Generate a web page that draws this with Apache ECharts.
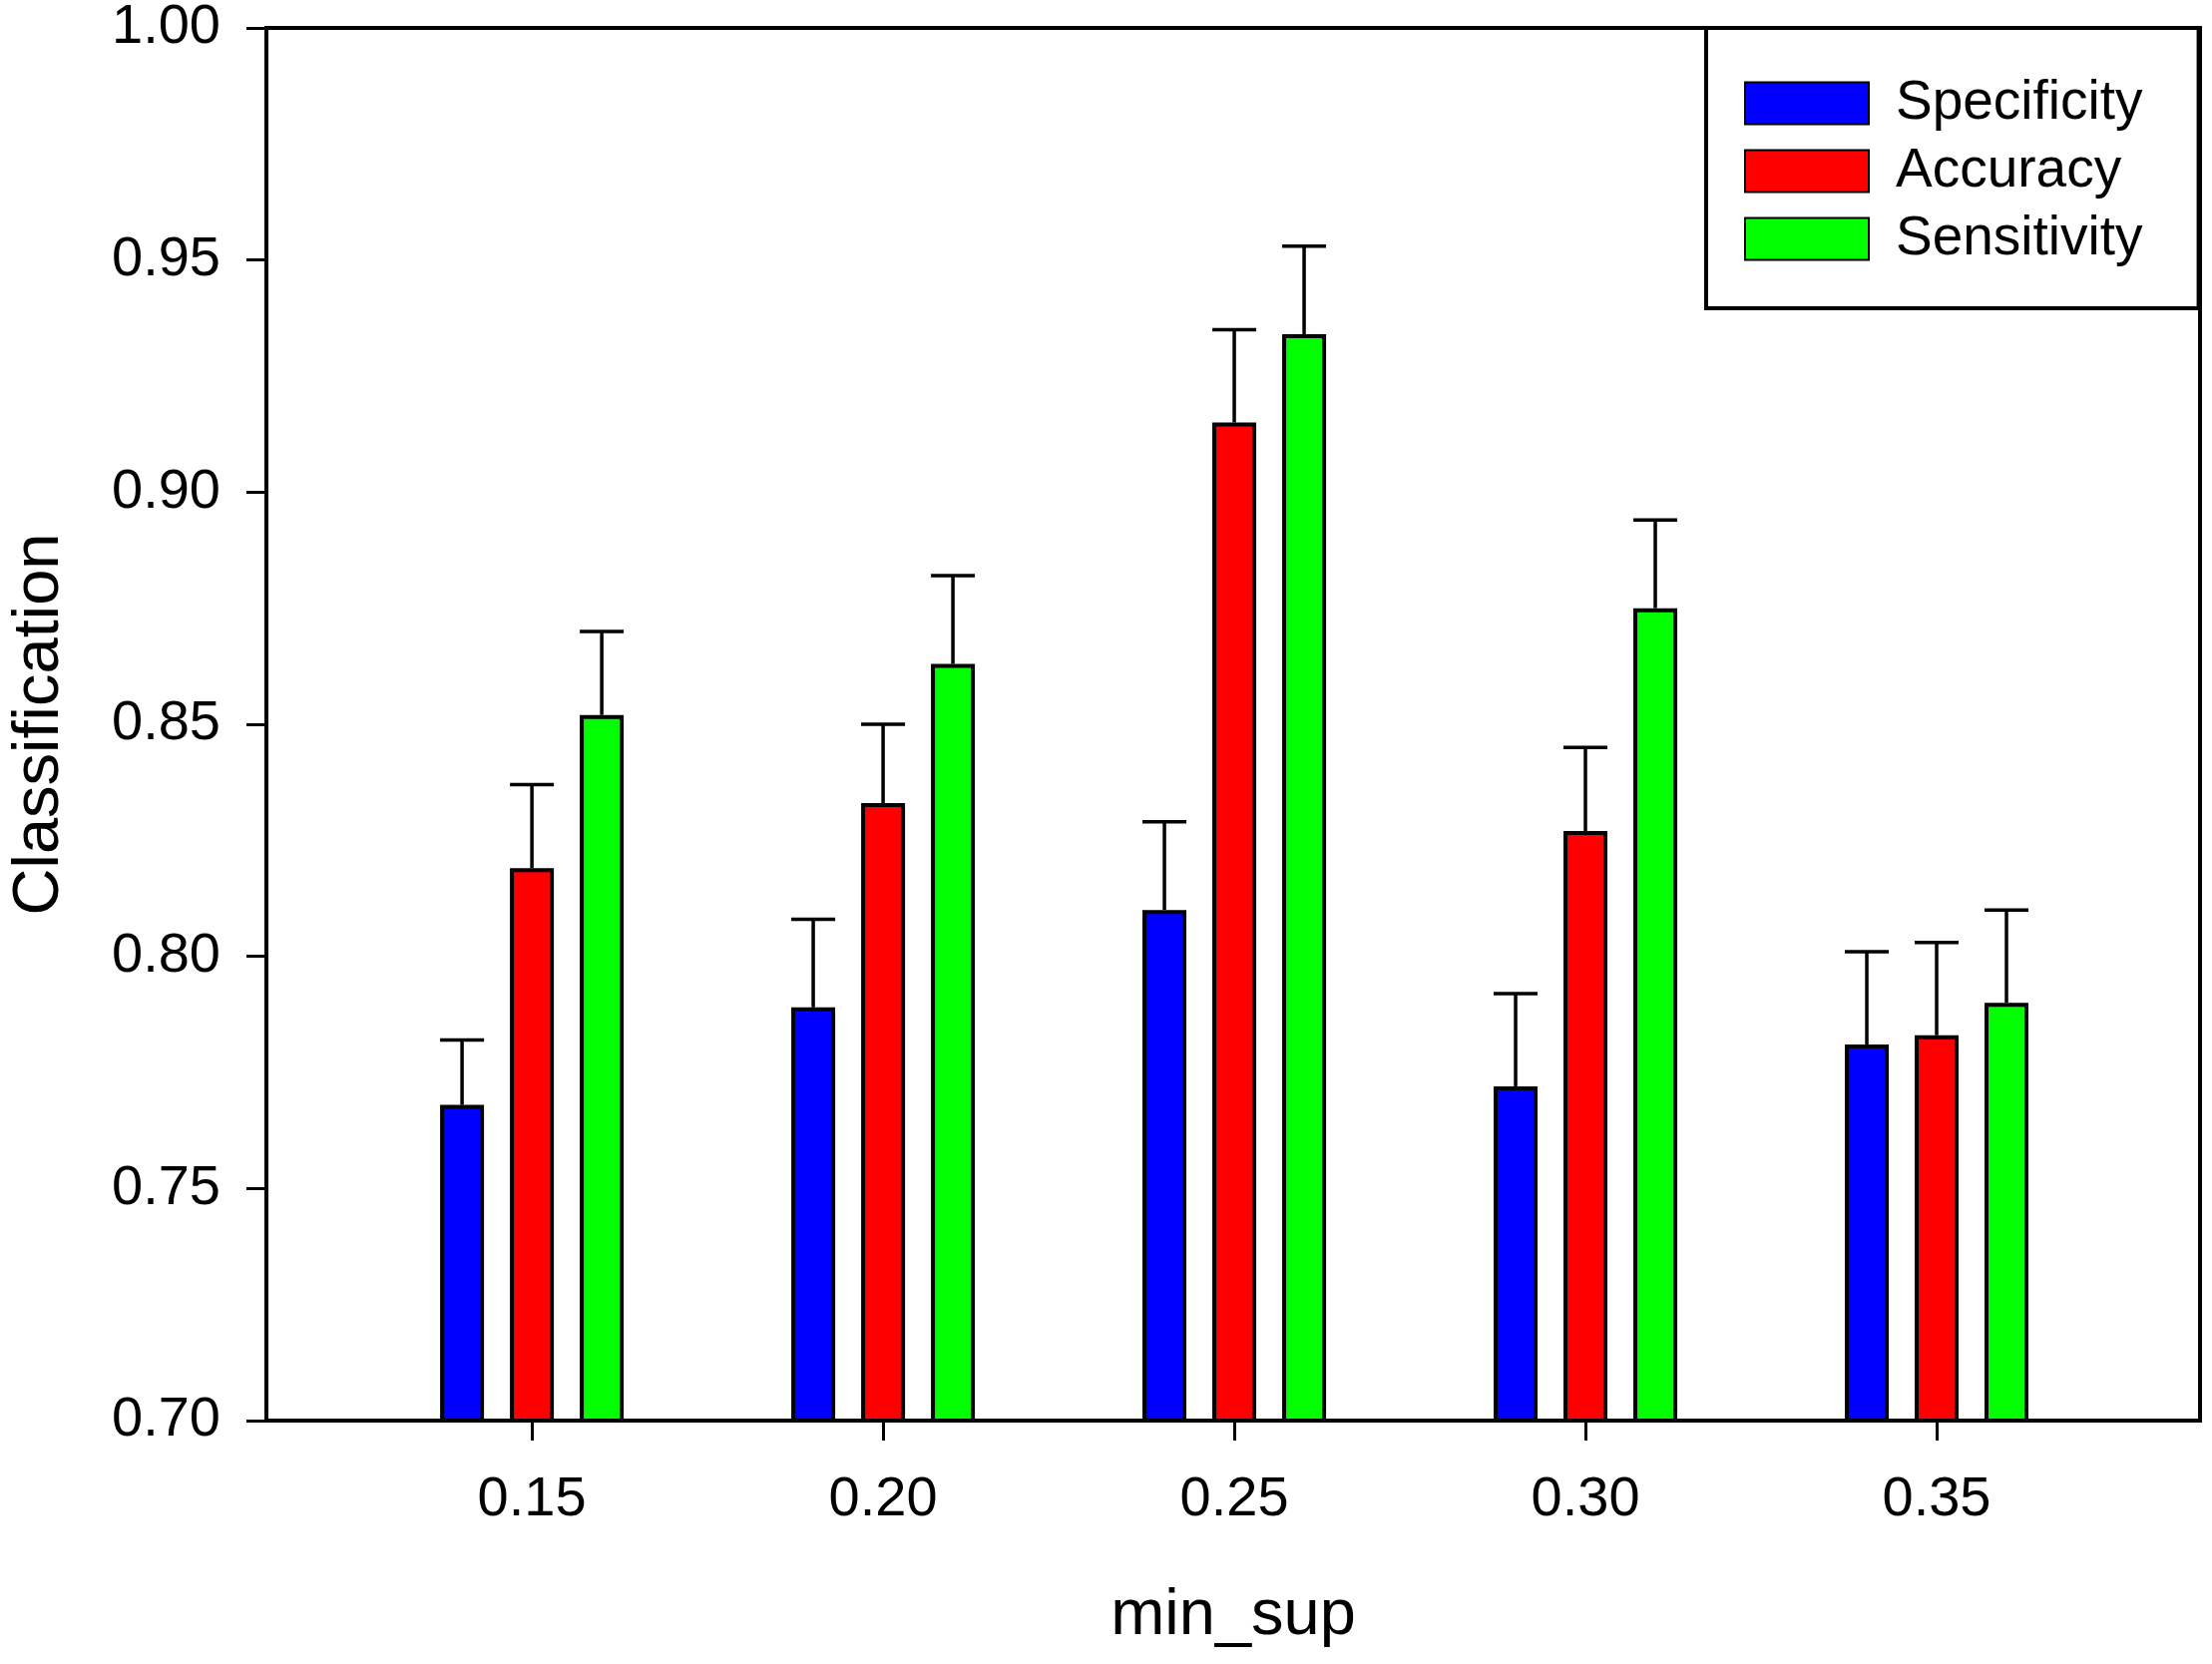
<!DOCTYPE html>
<html>
<head>
<meta charset="utf-8">
<title>Classification vs min_sup</title>
<script src="https://cdn.jsdelivr.net/npm/echarts/dist/echarts.min.js"></script>
<style>
    html, body { margin: 0; padding: 0; background: #fff; }
    #myChart { width: 2217px; height: 1668px; }
</style>
</head>
<body>
<div id="myChart"></div>
<script>
// x categories (min_sup) and y ticks
var minSup = [0.15, 0.20, 0.25, 0.30, 0.35];
var yTicks = [0.70, 0.75, 0.80, 0.85, 0.90, 0.95, 1.00];

// bar heights
var specificity = [0.768, 0.789, 0.810, 0.772, 0.781];
var accuracy    = [0.819, 0.833, 0.915, 0.827, 0.783];
var sensitivity = [0.852, 0.863, 0.934, 0.875, 0.790];

// upper error bar lengths
var specificityErr = [0.014, 0.019, 0.019, 0.020, 0.020];
var accuracyErr    = [0.018, 0.017, 0.020, 0.018, 0.020];
var sensitivityErr = [0.018, 0.019, 0.019, 0.019, 0.020];

var seriesNames = ['Specificity', 'Accuracy', 'Sensitivity'];
var seriesColors = ['#0000ff', '#ff0000', '#00ff00'];

var FONT = "'Liberation Sans', Arial, sans-serif";
var BAR_W = 44;     // px
var BAR_GAP = 26;   // px between bars in a group
var LINE_W = 4;

function pairs(values) {
    return values.map(function (v, i) { return [minSup[i], v]; });
}

function barSeries(idx, values) {
    return {
        name: seriesNames[idx],
        type: 'bar',
        barWidth: BAR_W,
        barGap: (BAR_GAP / BAR_W * 100) + '%',
        data: pairs(values),
        itemStyle: {
            color: seriesColors[idx],
            borderColor: '#000',
            borderWidth: LINE_W
        },
        z: 2
    };
}

// error bar: vertical line from bar top plus a cap as wide as the bar
function errorSeries(idx, values, errs) {
    var offset = (idx - 1) * (BAR_W + BAR_GAP);
    return {
        type: 'custom',
        name: seriesNames[idx] + ' err',
        data: values.map(function (v, i) { return [minSup[i], v, errs[i]]; }),
        encode: {x: 0, y: 1},
        z: 3,
        renderItem: function (params, api) {
            var base = api.coord([api.value(0), api.value(1)]);
            var top = api.coord([api.value(0), api.value(1) + api.value(2)]);
            var cx = base[0] + offset;
            var style = {stroke: '#000', lineWidth: 3.5};
            return {
                type: 'group',
                children: [
                    {type: 'line', shape: {x1: cx, y1: base[1], x2: cx, y2: top[1]}, style: style},
                    {type: 'line', shape: {x1: cx - BAR_W / 2, y1: top[1], x2: cx + BAR_W / 2, y2: top[1]}, style: style}
                ]
            };
        }
    };
}

var myChart = echarts.init(document.getElementById('myChart'));

var option = {
    animation: false,
    textStyle: {fontFamily: FONT, color: '#000'},
    grid: {
        left: 266,
        right: 12,
        top: 28,
        bottom: 244,
        show: true,
        borderColor: '#000',
        borderWidth: LINE_W
    },
    legend: {
        data: seriesNames,
        orient: 'vertical',
        left: 1710,
        top: 28,
        padding: [48, 56, 42, 38],
        itemWidth: 124,
        itemHeight: 42,
        itemGap: 13,
        icon: 'rect',
        backgroundColor: '#fff',
        borderColor: '#000',
        borderWidth: LINE_W,
        borderRadius: 0,
        textStyle: {fontFamily: FONT, fontSize: 55, color: '#000', padding: [0, 0, 0, 22]}
    },
    xAxis: {
        type: 'value',
        min: 0.1122,
        max: 0.3875,
        name: 'min_sup',
        nameLocation: 'middle',
        nameGap: 164,
        nameTextStyle: {fontFamily: FONT, fontSize: 65, color: '#000'},
        axisLine: {show: true, lineStyle: {color: '#000', width: LINE_W}},
        axisTick: {show: true, length: 20, lineStyle: {color: '#000', width: 3}, customValues: minSup},
        axisLabel: {
            fontFamily: FONT, fontSize: 56, color: '#000', margin: 52,
            customValues: minSup,
            formatter: function (v) { return v.toFixed(2); }
        },
        splitLine: {show: false}
    },
    yAxis: {
        type: 'value',
        min: yTicks[0],
        max: yTicks[yTicks.length - 1],
        interval: 0.05,
        name: 'Classification',
        nameLocation: 'middle',
        nameGap: 194,
        nameTextStyle: {fontFamily: FONT, fontSize: 65, color: '#000'},
        axisLine: {show: true, lineStyle: {color: '#000', width: LINE_W}},
        axisTick: {show: true, length: 20, lineStyle: {color: '#000', width: 3}},
        axisLabel: {
            fontFamily: FONT, fontSize: 56, color: '#000', margin: 46,
            formatter: function (v) { return v.toFixed(2); }
        },
        splitLine: {show: false}
    },
    series: [
        barSeries(0, specificity),
        barSeries(1, accuracy),
        barSeries(2, sensitivity),
        errorSeries(0, specificity, specificityErr),
        errorSeries(1, accuracy, accuracyErr),
        errorSeries(2, sensitivity, sensitivityErr)
    ]
};

myChart.setOption(option);
</script>
</body>
</html>
